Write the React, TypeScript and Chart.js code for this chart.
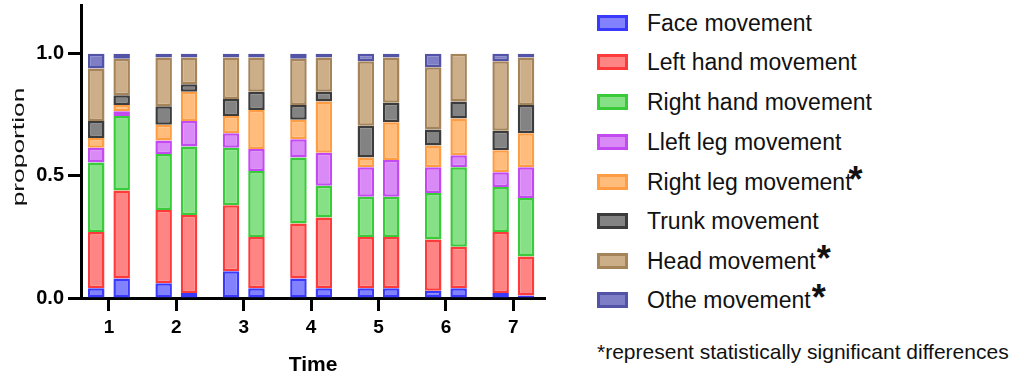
import React, { useEffect, useRef } from "react";
import { Chart, registerables } from "chart.js";

Chart.register(...registerables);

// Time points (x categories)
const times = [1, 2, 3, 4, 5, 6, 7];

// Series names (legend)
const seriesNames = [
  "Face movement",
  "Left hand movement",
  "Right hand movement",
  "Lleft leg movement",
  "Right leg movement",
  "Trunk movement",
  "Head movement",
  "Othe movement",
];
const significant = [false, false, false, false, true, false, true, true];

// Proportions, first bar of each time point
const faceFirst = [0.04, 0.06, 0.11, 0.08, 0.04, 0.03, 0.02];
const leftHandFirst = [0.23, 0.3, 0.27, 0.225, 0.21, 0.21, 0.25];
const rightHandFirst = [0.285, 0.23, 0.235, 0.27, 0.165, 0.19, 0.185];
const leftLegFirst = [0.06, 0.055, 0.06, 0.075, 0.12, 0.105, 0.06];
const rightLegFirst = [0.04, 0.065, 0.07, 0.08, 0.04, 0.09, 0.09];
const trunkFirst = [0.07, 0.075, 0.07, 0.06, 0.13, 0.065, 0.08];
const headFirst = [0.215, 0.2, 0.17, 0.19, 0.265, 0.255, 0.285];
const otherFirst = [0.06, 0.015, 0.015, 0.02, 0.03, 0.055, 0.03];

// Proportions, second bar of each time point
const faceSecond = [0.08, 0.02, 0.04, 0.04, 0.04, 0.04, 0.01];
const leftHandSecond = [0.36, 0.32, 0.21, 0.29, 0.21, 0.17, 0.16];
const rightHandSecond = [0.305, 0.28, 0.27, 0.13, 0.165, 0.325, 0.24];
const leftLegSecond = [0.02, 0.105, 0.09, 0.135, 0.15, 0.05, 0.125];
const rightLegSecond = [0.025, 0.12, 0.16, 0.21, 0.155, 0.15, 0.14];
const trunkSecond = [0.04, 0.03, 0.075, 0.04, 0.08, 0.07, 0.115];
const headSecond = [0.15, 0.11, 0.14, 0.14, 0.185, 0.195, 0.195];
const otherSecond = [0.02, 0.015, 0.015, 0.015, 0.015, 0.0, 0.015];

const yTicks = [0, 0.5, 1.0];

const firstValues = [faceFirst, leftHandFirst, rightHandFirst, leftLegFirst, rightLegFirst, trunkFirst, headFirst, otherFirst];
const secondValues = [faceSecond, leftHandSecond, rightHandSecond, leftLegSecond, rightLegSecond, trunkSecond, headSecond, otherSecond];

const fillColors = ["#8282ff", "#ff8585", "#86e086", "#da8af7", "#ffbc7a", "#838383", "#ccae88", "#7e7ec6"];
const borderColors = ["#3a3aff", "#ff3a3a", "#3acb3a", "#c24af0", "#ff9d45", "#3c3c3c", "#a6845a", "#5252a6"];

const FONT = "'Liberation Sans', Arial, Helvetica, sans-serif";

export default function App() {
  const canvasRef = useRef<HTMLCanvasElement | null>(null);

  useEffect(() => {
    if (!canvasRef.current) return;
    const datasets: any[] = [];
    seriesNames.forEach((name, s) => {
      const common = {
        label: name,
        backgroundColor: fillColors[s],
        borderColor: borderColors[s],
        borderWidth: 2.5,
        borderSkipped: false,
        categoryPercentage: 0.754,
        barPercentage: 0.65,
      };
      datasets.push({
        ...common,
        stack: "first",
        data: times.map((t, i) => ({ x: t, y: firstValues[s][i] })),
      });
      datasets.push({
        ...common,
        stack: "second",
        data: times.map((t, i) => ({ x: t, y: secondValues[s][i] })),
      });
    });

    const chart = new Chart(canvasRef.current, {
      type: "bar",
      data: { datasets },
      options: {
        animation: false,
        responsive: false,
        layout: { padding: { top: 5, right: 35, left: 0, bottom: 0 } },
        plugins: { legend: { display: false }, tooltip: { enabled: false } },
        scales: {
          x: {
            type: "linear",
            stacked: true,
            min: 0.585,
            max: 7.47,
            offset: false,
            afterBuildTicks: (axis: any) => {
              axis.ticks = times.map((v) => ({ value: v }));
            },
            afterFit: (scale: any) => {
              scale.height = 82;
              scale.paddingLeft = 0;
              scale.paddingRight = 0;
            },
            border: { display: true, color: "#000", width: 3 },
            grid: {
              offset: false,
              drawOnChartArea: false,
              drawTicks: true,
              tickLength: 13,
              tickWidth: 3,
              tickColor: "#000",
            },
            ticks: {
              color: "#000",
              padding: 5,
              font: { family: FONT, size: 19, weight: "bold" },
              callback: (v: any) => String(v),
              maxRotation: 0,
            },
            title: {
              display: true,
              text: "Time",
              color: "#000",
              font: { family: FONT, size: 21, weight: "bold" },
              padding: { top: 0, bottom: 2 },
            },
          },
          y: {
            stacked: true,
            min: 0,
            max: 1.2,
            afterBuildTicks: (axis: any) => {
              axis.ticks = yTicks.map((v) => ({ value: v }));
            },
            afterFit: (scale: any) => {
              scale.width = 81;
              scale.paddingTop = 0;
              scale.paddingBottom = 0;
            },
            border: { display: true, color: "#000", width: 3 },
            grid: {
              drawOnChartArea: false,
              drawTicks: true,
              tickLength: 13,
              tickWidth: 3,
              tickColor: "#000",
            },
            ticks: {
              color: "#000",
              padding: 4,
              font: { family: FONT, size: 20, weight: "bold" },
              callback: (v: any) => Number(v).toFixed(1),
            },
          },
        },
      } as any,
    });
    return () => chart.destroy();
  }, []);

  const rowCenters = [23, 62, 102, 141.5, 181.5, 221, 260.5, 299.5];

  return (
    <div style={{ position: "absolute", left: 0, top: 0, width: 1024, height: 380, background: "#fff", fontFamily: FONT }}>
      <canvas ref={canvasRef} width={580} height={380} style={{ position: "absolute", left: 0, top: 0 }} />
      <div
        style={{
          position: "absolute",
          left: 19 - 60,
          top: 147 - 12,
          width: 120,
          height: 24,
          lineHeight: "24px",
          textAlign: "center",
          fontSize: 17,
          color: "#111",
          transform: "rotate(-90deg) scaleX(1.55)",
          transformOrigin: "50% 50%",
          whiteSpace: "nowrap",
        }}
      >
        proportion
      </div>
      {seriesNames.map((name, s) => (
        <div key={name}>
          <div
            style={{
              position: "absolute",
              left: 597,
              top: rowCenters[s] - 8,
              width: 31,
              height: 16,
              boxSizing: "border-box",
              background: fillColors[s],
              border: `3px solid ${borderColors[s]}`,
            }}
          />
          <div
            style={{
              position: "absolute",
              left: 647,
              top: rowCenters[s] - 15,
              height: 30,
              lineHeight: "30px",
              fontSize: 23,
              color: "#111",
              whiteSpace: "nowrap",
            }}
          >
            {name}
            {significant[s] ? (
              <span style={{ fontSize: 36, fontWeight: "bold", marginLeft: s === 4 ? -3 : 1, lineHeight: 0, position: "relative", top: 2 }}>*</span>
            ) : null}
          </div>
        </div>
      ))}
      <div
        style={{
          position: "absolute",
          left: 597,
          top: 352 - 13,
          height: 26,
          lineHeight: "26px",
          fontSize: 21,
          color: "#111",
          whiteSpace: "nowrap",
        }}
      >
        *represent statistically significant differences
      </div>
    </div>
  );
}
